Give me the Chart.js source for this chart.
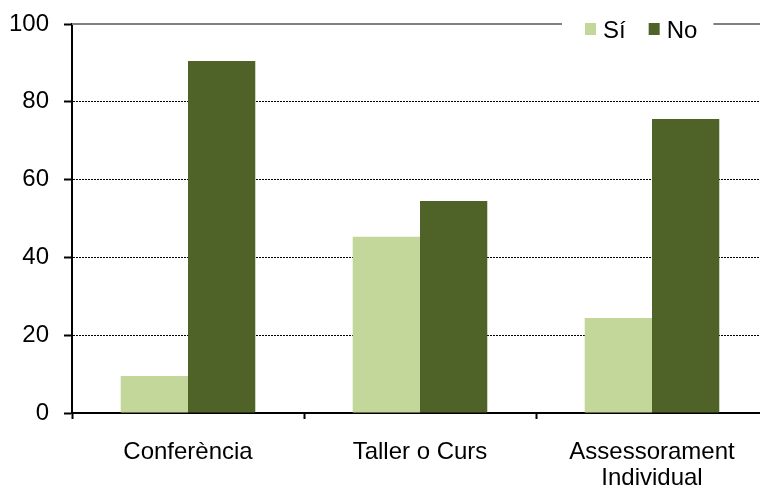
<!DOCTYPE html>
<html>
<head>
<meta charset="utf-8">
<script src="https://cdn.jsdelivr.net/npm/chart.js@4"></script>
<style>
  html, body { margin: 0; padding: 0; background: #fff; width: 760px; height: 486px; overflow: hidden; }
  #wrap { width: 770px; height: 486px; }
</style>
</head>
<body>
<div id="wrap"><canvas id="chart" width="770" height="486"></canvas></div>
<script>
// Sí / No per activity type — grouped bars, legend sits on the top frame line.

const CATEGORIES = ['Conferència', 'Taller o Curs', ['Assessorament', 'Individual']];
const SI_VALUES = [9.5, 45.3, 24.4];
const NO_VALUES = [90.5, 54.5, 75.6];
const Y_TICKS = [0, 20, 40, 60, 80, 100];

const LIGHT_GREEN = '#c4d79b';
const DARK_GREEN = '#4f6228';
const FONT = "'Liberation Sans', Arial, sans-serif";

// Top frame line (grey) plus the legend box drawn over it
const topFrameLegend = {
  id: 'topFrameLegend',
  afterDraw(chart) {
    const { ctx, chartArea } = chart;
    ctx.save();
    ctx.strokeStyle = '#808080';
    ctx.lineWidth = 2;
    ctx.beginPath();
    ctx.moveTo(chartArea.left, chartArea.top);
    ctx.lineTo(chartArea.right, chartArea.top);
    ctx.stroke();

    ctx.font = '24px ' + FONT;
    ctx.textBaseline = 'middle';
    const items = chart.data.datasets.map(ds => ({ label: ds.label, color: ds.backgroundColor }));
    const boxLeft = 562;
    let x = 585;
    const cy = 30;
    const pieces = items.map(it => {
      const w = ctx.measureText(it.label).width;
      const p = { ...it, x, w };
      x += 11 + 7 + w + 23;
      return p;
    });
    const boxRight = x - 23 + 16;
    ctx.fillStyle = '#fff';
    ctx.fillRect(boxLeft, chartArea.top - 10, boxRight - boxLeft, 20);
    for (const p of pieces) {
      ctx.fillStyle = p.color;
      ctx.fillRect(p.x, cy - 7, 11, 12);
      ctx.fillStyle = '#000';
      ctx.fillText(p.label, p.x + 18, cy + 1);
    }
    ctx.restore();
  },
};

new Chart(document.getElementById('chart'), {
  type: 'bar',
  data: {
    labels: CATEGORIES,
    datasets: [
      { label: 'Sí', data: SI_VALUES, backgroundColor: LIGHT_GREEN },
      { label: 'No', data: NO_VALUES, backgroundColor: DARK_GREEN },
    ],
  },
  options: {
    responsive: false,
    animation: false,
    layout: { padding: { top: 24, right: 2, left: 0, bottom: 0 } },
    datasets: {
      bar: { categoryPercentage: 0.58, barPercentage: 1.0, borderWidth: 0 },
    },
    plugins: {
      legend: { display: false },
      tooltip: { enabled: false },
    },
    scales: {
      x: {
        grid: {
          display: true,
          drawOnChartArea: false,
          drawTicks: true,
          tickLength: 6,
          tickColor: '#000',
          tickWidth: 2,
          offset: true,
        },
        border: { display: true, color: '#000', width: 2 },
        ticks: {
          color: '#000',
          padding: 20,
          font: { family: FONT, size: 24, lineHeight: 1.1 },
          maxRotation: 0,
          autoSkip: false,
        },
        afterFit(s) { s.height = 73; },
      },
      y: {
        min: 0,
        max: 100,
        afterBuildTicks(s) { s.ticks = Y_TICKS.map(v => ({ value: v })); },
        grid: {
          color: c => (c.tick && (c.tick.value === 0 || c.tick.value === 100)) ? 'rgba(0,0,0,0)' : '#000',
          lineWidth: 1,
          drawTicks: true,
          tickLength: 8,
          tickColor: '#000',
          tickWidth: 2,
        },
        border: { display: true, color: '#000', width: 2, dash: [2, 1] },
        ticks: {
          color: '#000',
          padding: 15,
          font: { family: FONT, size: 24 },
        },
        afterFit(s) {
          s.width = 72;
          s.paddingTop = 0;
          s.paddingBottom = 0;
        },
      },
    },
  },
  plugins: [topFrameLegend],
});
</script>
</body>
</html>
